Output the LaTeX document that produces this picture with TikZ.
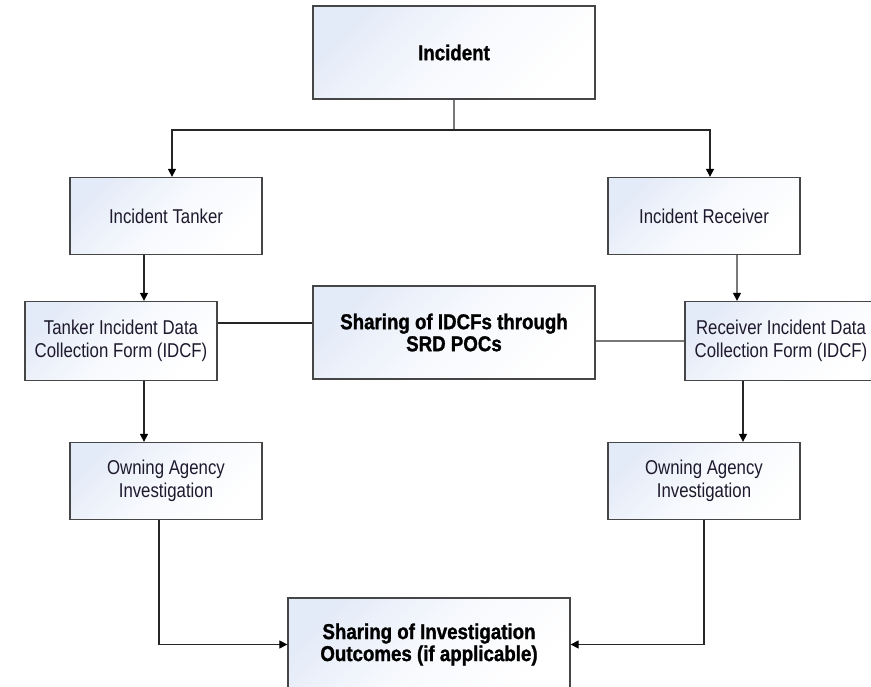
\documentclass[tikz,border=0pt]{standalone}
\usepackage{fontspec}
\setmainfont{Liberation Sans}[FakeStretch=0.84]
\newfontfamily\boldf{Liberation Sans Bold}[FakeStretch=0.87,FakeBold=1.2]
\usetikzlibrary{arrows.meta}
\definecolor{boxline}{RGB}{70,70,70}
\definecolor{boxfill}{RGB}{228,235,248}
\definecolor{linegray}{RGB}{120,120,120}
\definecolor{txt}{RGB}{30,25,45}
\begin{document}
\begin{tikzpicture}[x=1pt,y=-1pt,
  box/.style={draw=boxline,line width=1.3pt,rectangle,inner sep=0pt,
    top color=boxfill,bottom color=white,middle color=white!70!boxfill,shading angle=45,
    align=center,text=txt},
  smallbox/.style={box,minimum width=192pt,minimum height=77pt,
    font=\fontsize{20}{23}\selectfont},
  bigbox/.style={box,minimum width=282pt,minimum height=93pt,text=black,
    font=\boldf\fontsize{21.5}{22}\selectfont},
  conn/.style={draw=black!85,line width=1.2pt},
  connG/.style={draw=linegray,line width=1.2pt},
  arr/.style={-{Triangle[length=8pt,width=8pt,fill=black,color=black]}}]
\useasboundingbox (0,0) rectangle (871,687);
\clip (0,0) rectangle (871,687);
% nodes
\node[bigbox] (inc) at (454,52.5) {Incident};
\node[smallbox] (tank) at (166,216) {Incident Tanker};
\node[smallbox] (recv) at (704,216) {Incident Receiver};
\node[smallbox,minimum height=79pt] (tidcf) at (121,341) {Tanker Incident Data\\Collection Form (IDCF)};
\node[smallbox,minimum height=79pt] (ridcf) at (781,341) {Receiver Incident Data\\Collection Form (IDCF)};
\node[bigbox] (share) at (454,332.5) {Sharing of IDCFs through\\SRD POCs};
\node[smallbox] (town) at (166,481) {Owning Agency\\Investigation};
\node[smallbox] (rown) at (704,481) {Owning Agency\\Investigation};
\node[bigbox] (out) at (429,644.5) {Sharing of Investigation\\Outcomes (if applicable)};
% coordinates
\coordinate (split) at (454,130);
% connectors
\draw[connG] (inc.south) -- (split);
\draw[conn,arr] (split) -| (tank.north -| 172,0);
\draw[conn,arr] (split) -| (recv.north -| 710,0);
\draw[conn,arr] (tank.south -| 144,0) -- (tidcf.north -| 144,0);
\draw[connG,arr] (recv.south -| 737,0) -- (ridcf.north -| 737,0);
\draw[conn] (tidcf.east |- 0,323) -- (share.west |- 0,323);
\draw[connG] (share.east |- 0,341) -- (ridcf.west |- 0,341);
\draw[conn,arr] (tidcf.south -| 144,0) -- (town.north -| 144,0);
\draw[conn,arr] (ridcf.south -| 743,0) -- (rown.north -| 743,0);
\draw[conn,arr] (town.south -| 159,0) |- (out.west);
\draw[conn,arr] (rown.south -| 704,0) |- (out.east);
\end{tikzpicture}
\end{document}
